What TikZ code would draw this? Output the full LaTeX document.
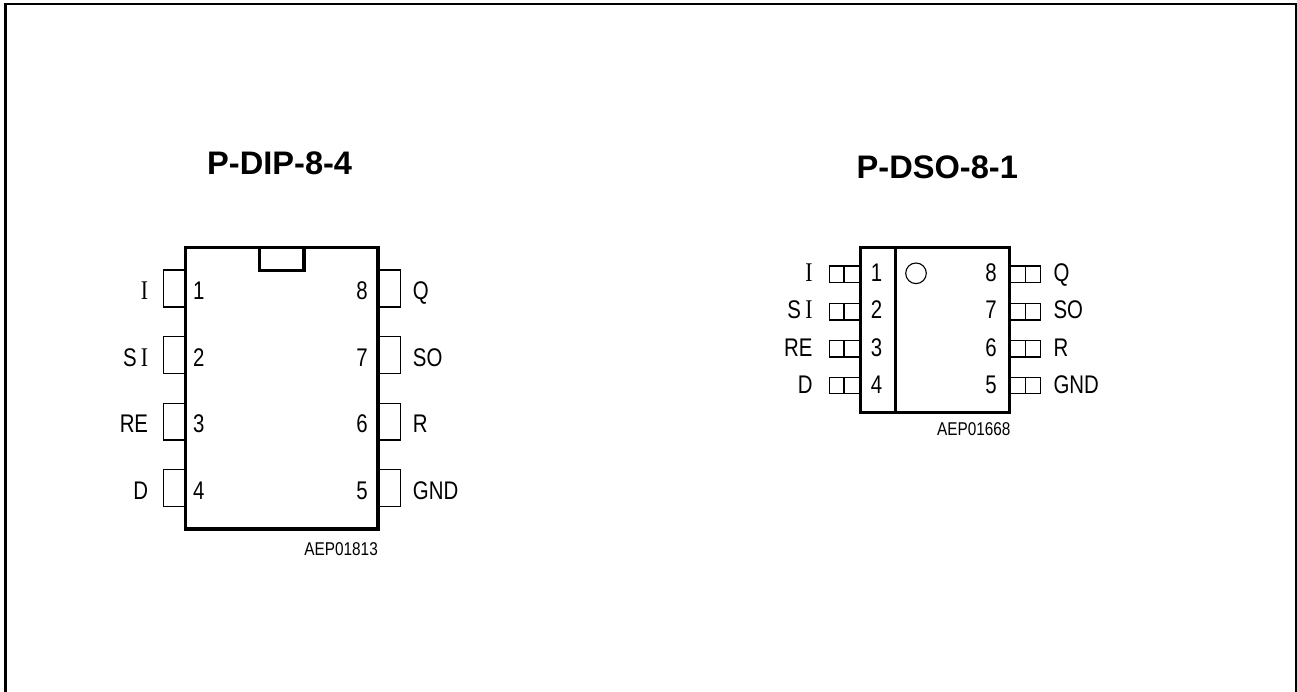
\documentclass[tikz,border=0pt]{standalone}
\usepackage{fontspec}
\setmainfont{Liberation Sans}
\newfontfamily\labelfont[FakeStretch=0.8]{Liberation Sans}
\newfontfamily\codefont[FakeStretch=0.83]{Liberation Sans}
\newfontfamily\titlefont{Liberation Sans Bold}
\newfontfamily\seriffont[FakeStretch=0.8]{Liberation Serif}
\newcommand{\serifI}{{\fontsize{27}{27}\seriffont I}}
\tikzset{
  body/.style={draw=black,line width=3.2pt},
  pinbox/.style={draw=black,line width=1.1pt},
  lab/.style={inner sep=0pt,font=\fontsize{25.5}{26}\labelfont},
  labr/.style={lab,anchor=base west},
  labl/.style={lab,anchor=base east},
  code/.style={inner sep=0pt,anchor=base east,font=\fontsize{18.5}{19}\codefont},
  ttl/.style={inner sep=0pt,anchor=base west,font=\fontsize{32.6}{33}\titlefont}
}
\begin{document}
\begin{tikzpicture}[x=1pt,y=-1pt]
\useasboundingbox (0,0) rectangle (1297,692);
\fill[white] (0,0) rectangle (1297,692);
\draw[black,line width=2.4pt] (5.4,692) -- (5.4,4) -- (1296.6,4) -- (1296.6,692);
% titles
\node[ttl] (t1) at (207,175) {P-DIP-8-4};
\node[ttl] (t2) at (856.5,179) {P-DSO-8-1};
% DIP package
\foreach \n/\a/\b in {1/270/307,2/336.7/373.7,3/403.3/440,4/469.7/506.7}{
  \draw[pinbox] (185.7,\a) -- (163.3,\a) -- (163.3,\b) -- (185.7,\b);
  \draw[pinbox] (378,\a) -- (400.7,\a) -- (400.7,\b) -- (378,\b);
}
\draw[body] (185.7,247.7) rectangle (378,529);
\draw[body] (259.3,247.7) -- (259.3,270.7) -- (304,270.7) -- (304,247.7);
\foreach \n/\y in {1/300,2/366.7,3/432.5,4/499}{
  \node[labr] (dl\n) at (193,\y) {\n};
}
\foreach \n/\y in {8/300,7/366.7,6/432.5,5/499}{
  \node[labl] (dr\n) at (368,\y) {\n};
}
\node[labl] (dI) at (148.3,300) {\serifI};
\node[labl] (dSI) at (148.3,366.7) {S\,\serifI};
\node[labl] (dRE) at (148.3,432.5) {RE};
\node[labl] (dD) at (148.3,499) {D};
\node[labr] (dQ) at (412.7,300) {Q};
\node[labr] (dSO) at (412.7,366.7) {SO};
\node[labr] (dR) at (412.7,432.5) {R};
\node[labr] (dGND) at (412.7,499) {GND};
\node[code] (c1) at (378,555) {AEP01813};
% DSO package
\foreach \n/\a/\b in {1/266/282.3,2/303.3/320,3/340.7/357,4/377.3/393.7}{
  \draw[pinbox] (860.7,\a) -- (829.3,\a) -- (829.3,\b) -- (860.7,\b);
  \draw[pinbox] (844,\a) -- (844,\b);
  \draw[pinbox] (1009.3,\a) -- (1040.7,\a) -- (1040.7,\b) -- (1009.3,\b);
  \draw[pinbox] (1025.7,\a) -- (1025.7,\b);
}
\draw[body] (860.7,247.7) rectangle (1009.3,412.3);
\draw[body] (895.7,247.7) -- (895.7,412.3);
\draw[pinbox] (916,273.3) circle (10.3);
\foreach \n/\y in {1/282,2/319,3/356.7,4/393.3}{
  \node[labr] (sl\n) at (870.7,\y) {\n};
}
\foreach \n/\y in {8/282,7/319,6/356.7,5/393.3}{
  \node[labl] (sr\n) at (997,\y) {\n};
}
\node[labl] (sI) at (812.7,282) {\serifI};
\node[labl] (sSI) at (812.7,319) {S\,\serifI};
\node[labl] (sRE) at (812.7,356.7) {RE};
\node[labl] (sD) at (812.7,393.3) {D};
\node[labr] (sQ) at (1053.3,282) {Q};
\node[labr] (sSO) at (1053.3,319) {SO};
\node[labr] (sR) at (1053.3,356.7) {R};
\node[labr] (sGND) at (1053.3,393.3) {GND};
\node[code] (c2) at (1010.7,435.7) {AEP01668};
\end{tikzpicture}
\end{document}
